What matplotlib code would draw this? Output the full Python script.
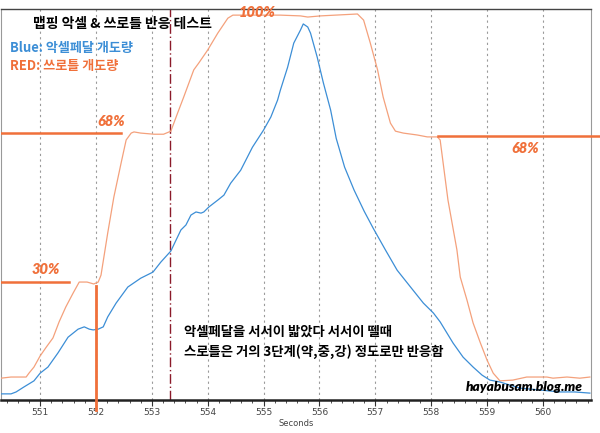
import matplotlib
matplotlib.use("Agg")
import matplotlib.pyplot as plt
from matplotlib.ticker import MultipleLocator

# ---- data ----
throttle_t = [550.30, 550.48, 550.75, 550.80, 550.89, 551.00, 551.11, 551.23, 551.34, 551.46,
              551.59, 551.70, 551.84, 551.96, 552.04, 552.09, 552.21, 552.32, 552.45, 552.54,
              552.63, 552.68, 552.80, 553.04, 553.21, 553.34, 553.46, 553.57, 553.75, 553.84,
              554.00, 554.18, 554.36, 554.45, 554.59, 555.30, 555.66, 555.79, 556.02, 556.68,
              556.79, 556.91, 557.04, 557.14, 557.27, 557.36, 557.50, 557.75, 557.93, 558.11,
              558.16, 558.30, 558.46, 558.52, 558.64, 558.75, 558.88, 559.00, 559.11, 559.23,
              559.46, 559.71, 560.07, 560.18, 560.43, 560.66, 560.84]
throttle_p = [4.9, 5.2, 5.2, 6.2, 7.8, 10.7, 13.0, 15.4, 19.6, 23.5,
              27.1, 30.0, 30.0, 29.5, 30.0, 31.8, 42.8, 52.2, 61.1, 67.1,
              68.9, 69.2, 68.9, 68.6, 68.6, 69.4, 74.1, 78.3, 85.4, 87.2,
              90.6, 95.0, 98.9, 99.7, 99.7, 99.7, 99.5, 99.2, 99.5, 100.0,
              98.4, 92.4, 85.4, 78.3, 71.5, 69.4, 68.9, 68.4, 67.9, 67.9,
              67.1, 51.4, 38.4, 31.3, 25.3, 19.3, 14.1, 9.6, 6.2, 4.2,
              4.4, 5.2, 5.2, 4.9, 5.2, 4.9, 5.2]

pedal_t = [550.30, 550.48, 550.57, 550.71, 550.89, 551.00, 551.14, 551.32, 551.50, 551.68,
           551.79, 551.88, 551.95, 552.04, 552.13, 552.21, 552.36, 552.57, 552.80, 553.02,
           553.16, 553.34, 553.52, 553.61, 553.70, 553.79, 553.88, 553.93, 554.02, 554.18,
           554.29, 554.41, 554.59, 554.80, 555.00, 555.13, 555.25, 555.30, 555.43, 555.54,
           555.66, 555.71, 555.79, 555.84, 555.96, 556.07, 556.20, 556.30, 556.45, 556.62,
           556.80, 556.96, 557.18, 557.39, 557.63, 557.86, 558.04, 558.16, 558.39, 558.57,
           558.75, 558.91, 559.05, 559.23, 559.59, 559.95, 560.30, 560.57, 560.84]
pedal_p = [0.8, 0.8, 1.3, 2.6, 4.2, 6.2, 7.8, 11.5, 15.6, 17.7,
           18.3, 17.7, 17.5, 17.7, 18.3, 20.9, 24.5, 28.7, 31.0, 32.6,
           35.2, 38.1, 43.6, 44.9, 47.5, 48.3, 48.0, 48.3, 49.6, 51.4,
           52.7, 55.8, 59.2, 65.2, 69.7, 73.1, 77.5, 80.1, 86.1, 92.4,
           95.8, 97.4, 96.6, 95.0, 88.7, 82.0, 74.9, 67.5, 60.0, 54.0,
           48.5, 44.1, 38.4, 33.1, 28.7, 24.5, 21.9, 19.6, 14.1, 10.4,
           7.8, 5.7, 4.4, 3.9, 2.3, 1.8, 1.3, 1.3, 1.0]

level_values = [30.0, 68.9, 68.1]
level_labels = ["30%", "68%", "68%"]
top_label = "100%"
x_ticks = [551, 552, 553, 554, 555, 556, 557, 558, 559, 560]

title_text = "맵핑 악셀 & 쓰로틀 반응 테스트"
blue_text = "Blue: 악셀페달 개도량"
red_text = "RED: 쓰로틀 개도량"
note_1 = "악셀페달을 서서이 밟았다 서서이 뗄때"
note_2 = "스로틀은 거의 3단계(약,중,강) 정도로만 반응함"
watermark = "hayabusam.blog.me"

# ---- style ----
ORANGE_LINE = "#F4A17C"
ORANGE = "#F0703A"
BLUE = "#3C8ED6"
KR = ["Noto Sans CJK KR", "DejaVu Sans"]

fig = plt.figure(figsize=(6.0, 4.33), dpi=100)
ax = fig.add_axes([1/600, 1 - 400/433, 590/600, 391/433])
ax.set_xlim(550.30, 560.86)
ax.set_ylim(-0.8, 101.3)

for xt in x_ticks:
    ax.axvline(xt, color="#9a9a9a", lw=0.8, ls=(0, (2, 3)), zorder=1)

ax.plot(throttle_t, throttle_p, color=ORANGE_LINE, lw=0.9, zorder=3)
ax.plot(pedal_t, pedal_p, color=BLUE, lw=0.9, zorder=3)

# red dash-dot marker line
ax.axvline(553.33, color="#8B1A2A", lw=1.0, ls=(0, (7, 2, 1, 2)), zorder=2)
# orange vertical at 552
ax.plot([552.0, 552.0], [29.0, -3.3], color=ORANGE, lw=2.0, clip_on=False, zorder=4)

# level lines
ax.plot([550.30, 551.52], [level_values[0]] * 2, color=ORANGE, lw=1.8, zorder=4)
ax.plot([550.30, 552.45], [level_values[1]] * 2, color=ORANGE, lw=1.8, zorder=4)
ax.plot([558.13, 561.02], [level_values[2]] * 2, color=ORANGE, lw=1.8, clip_on=False, zorder=4)

lab_kw = dict(color=ORANGE, fontsize=10.5, fontweight="heavy", style="italic",
              family="Lato", ha="center", va="center")
ax.text(551.11, 33.3, level_labels[0], **lab_kw)
ax.text(552.27, 71.8, level_labels[1], **lab_kw)
ax.text(559.68, 65.0, level_labels[2], **lab_kw)
ax.text(554.88, 100.4, top_label, **lab_kw)

# texts
ax.text(550.88, 97.5, title_text, family=KR, fontsize=10, fontweight="bold",
        color="black", ha="left", va="center")
ax.text(550.47, 91.0, blue_text, family=KR, fontsize=9.4, fontweight="bold",
        color=BLUE, ha="left", va="center")
ax.text(550.47, 86.3, red_text, family=KR, fontsize=9.4, fontweight="bold",
        color=ORANGE, ha="left", va="center")
ax.text(553.58, 17.0, note_1, family=KR, fontsize=9.6, fontweight="bold",
        color="black", ha="left", va="center")
ax.text(553.58, 11.7, note_2, family=KR, fontsize=9.6, fontweight="bold",
        color="black", ha="left", va="center")
ax.text(560.72, 2.6, watermark, family="Lato", fontsize=9.8, fontweight="heavy",
        style="italic", color="black", ha="right", va="center")

# axes styling
ax.set_yticks([])
ax.set_xticks(x_ticks)
ax.xaxis.set_minor_locator(MultipleLocator(0.2))
ax.tick_params(axis="x", which="major", length=4, width=0.8, color="#333333",
               labelsize=6.5, labelcolor="#444444", pad=2)
ax.tick_params(axis="x", which="minor", length=2, width=0.6, color="#333333")
ax.set_xlabel("Seconds", fontsize=6, color="#444444", labelpad=1)

ax.spines["bottom"].set_linewidth(1.8)
ax.spines["bottom"].set_color("#222222")
ax.spines["top"].set_color("#444444")
ax.spines["top"].set_linewidth(1.0)
ax.spines["left"].set_color("#999999")
ax.spines["right"].set_color("#999999")

fig.savefig("out.png", dpi=100, facecolor="white")
